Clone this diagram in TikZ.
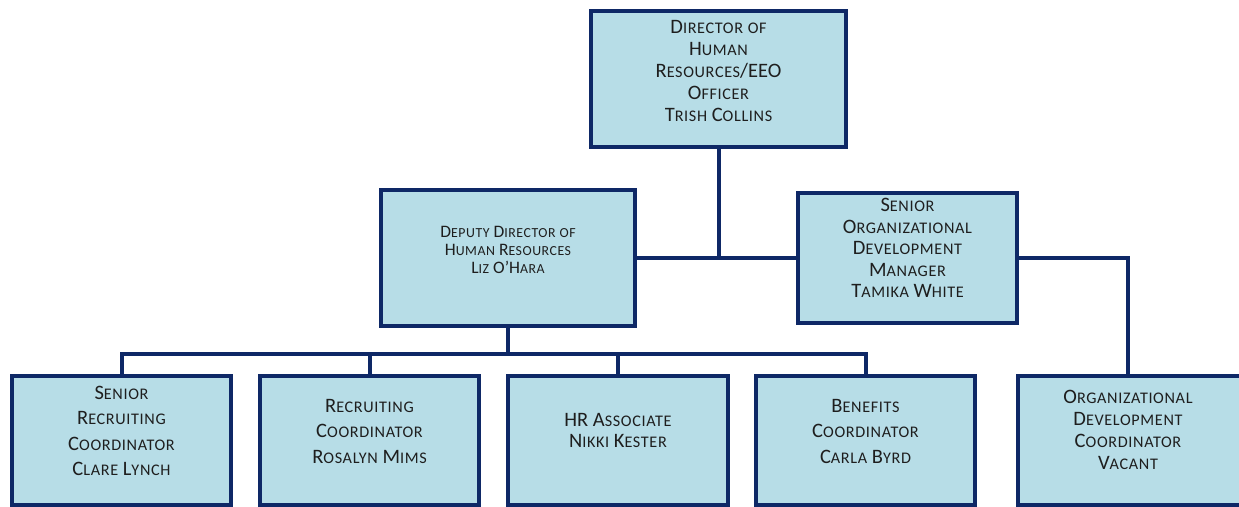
\documentclass[tikz,border=0pt]{standalone}
\usepackage{fontspec}
\setmainfont{Carlito}
\newfontfamily\scfont[Scale=0.79, LetterSpace=4]{Carlito}
\usetikzlibrary{calc}
\definecolor{boxfill}{RGB}{183,221,231}
\definecolor{navy}{RGB}{14,40,102}
\definecolor{ink}{RGB}{30,30,30}
% small-capital words: first letter full size, the rest as reduced capitals
\newcommand\w[1]{\wsplit#1\relax}
\def\wsplit#1#2\relax{#1{\scfont\MakeUppercase{#2}}}
\newcommand\lw[1]{{\scfont\MakeUppercase{#1}}}
\tikzset{
  box/.style={draw=navy, fill=boxfill, line width=4pt, rectangle, inner sep=0pt},
  wire/.style={draw=navy, line width=4pt},
  txt/.style={align=center, text=ink, inner sep=0pt},
}
\begin{document}
\begin{tikzpicture}[x=1pt, y=-1pt]
\useasboundingbox (0,0) rectangle (1239,506);
\clip (0,0) rectangle (1239,506);

% boxes
\node[box, minimum width=255pt, minimum height=136pt] (dir) at (718.5,79) {};
\node[box, minimum width=254pt, minimum height=136pt] (dep) at (508,258) {};
\node[box, minimum width=219pt, minimum height=130pt] (sod) at (907.5,258) {};
\node[box, minimum width=219pt, minimum height=129pt] (b1) at (121.5,440) {};
\node[box, minimum width=219pt, minimum height=129pt] (b2) at (369.5,440) {};
\node[box, minimum width=220pt, minimum height=129pt] (b3) at (618,440) {};
\node[box, minimum width=219pt, minimum height=129pt] (b4) at (865.5,440) {};
\node[box, minimum width=228pt, minimum height=129pt] (odc) at (1132,440) {};

% connectors
\coordinate (bus) at ($(dep.south)+(0,26)$);
\coordinate (odin) at ($(odc.north)+(-4,0)$);
\draw[wire] (dep.east) -- (sod.west);
\draw[wire] (dir.south) -- (dir.south |- dep.east);
\draw[wire] (sod.east) -| (odin);
\draw[wire] (dep.south) -- (bus);
\draw[wire] (b1.north) |- (bus) -| (b4.north);
\draw[wire] (b2.north) -- (b2.north |- bus);
\draw[wire] (b3.north) -- (b3.north |- bus);

% labels
\node[txt, font=\fontsize{20.5}{22}\selectfont] (dirt) at (718.5,71)
  {\w{Director} \lw{of}\\\w{Human}\\\w{Resources}/EEO\\\w{Officer}\\\w{Trish} \w{Collins}};
\node[txt, font=\fontsize{17.5}{18}\selectfont] (dept) at (508,250)
  {\w{Deputy} \w{Director} \lw{of}\\\w{Human} \w{Resources}\\\w{Liz} O’\w{Hara}};
\node[txt, font=\fontsize{20.5}{21.5}\selectfont] (sodt) at (907.5,248)
  {\w{Senior}\\\w{Organizational}\\\w{Development}\\\w{Manager}\\\w{Tamika} \w{White}};
\node[txt, font=\fontsize{20.5}{25.5}\selectfont] (b1t) at (121.5,431)
  {\w{Senior}\\\w{Recruiting}\\\w{Coordinator}\\\w{Clare} \w{Lynch}};
\node[txt, font=\fontsize{20.5}{25.5}\selectfont] (b2t) at (369.5,431)
  {\w{Recruiting}\\\w{Coordinator}\\\w{Rosalyn} \w{Mims}};
\node[txt, font=\fontsize{20.5}{21}\selectfont] (b3t) at (618,430)
  {HR \w{Associate}\\\w{Nikki} \w{Kester}};
\node[txt, font=\fontsize{20.5}{25.5}\selectfont] (b4t) at (865.5,431)
  {\w{Benefits}\\\w{Coordinator}\\\w{Carla} \w{Byrd}};
\node[txt, font=\fontsize{20.5}{22}\selectfont] (odct) at (1128,430)
  {\w{Organizational}\\\w{Development}\\\w{Coordinator}\\\w{Vacant}};
\end{tikzpicture}
\end{document}
